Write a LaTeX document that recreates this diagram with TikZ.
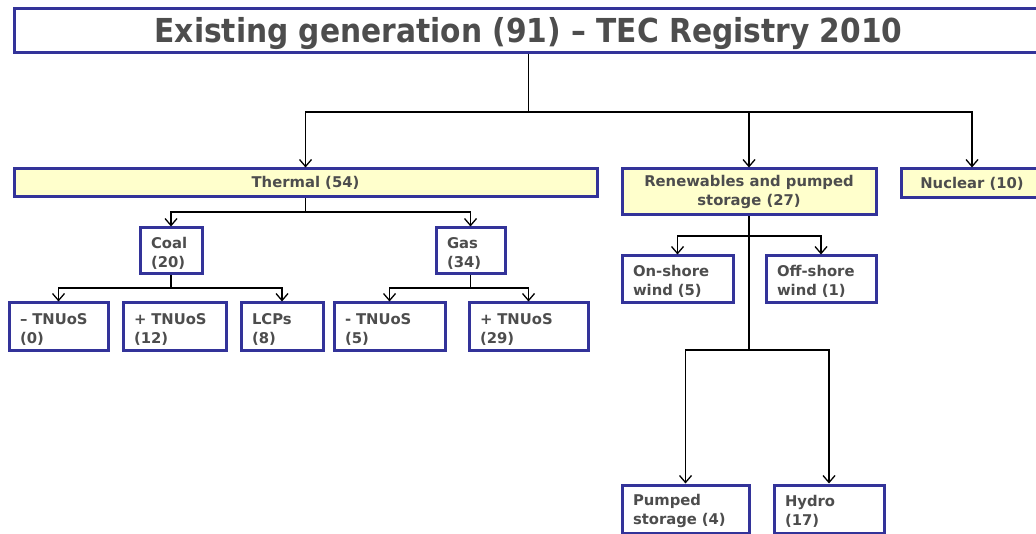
\documentclass[tikz,border=0pt]{standalone}
\usepackage{fontspec}
\setmainfont{DejaVu Sans}
\newfontfamily\titlefont{DejaVu Sans Condensed}
\usetikzlibrary{arrows.meta}
\definecolor{bordblue}{HTML}{333399}
\definecolor{boxyellow}{HTML}{FFFFCC}
\definecolor{txtgrey}{HTML}{4D4D4D}
\tikzset{
  basebox/.style={draw=bordblue, line width=3pt, fill=white, inner ysep=0pt,
    text=txtgrey, font=\fontsize{14.8}{19}\selectfont\bfseries},
  ybox/.style={basebox, fill=boxyellow, align=center},
  lbox/.style={basebox, align=left, inner xsep=11pt, text width=#1,
    execute at begin node={\rule{0pt}{15pt}}},
  conn/.style={line width=1.3pt, black},
  arr/.style={conn, -{Straight Barb[length=7pt,width=12pt,line width=1.3pt]}},
}
\begin{document}
\begin{tikzpicture}[x=1pt,y=-1pt]
\useasboundingbox (0,0) rectangle (1036,534);
% title
\node[basebox, minimum width=1029pt, minimum height=44pt, text height=24pt, text depth=0pt,
  font=\titlefont\fontsize{33}{36}\selectfont\bfseries]
  (title) at (528.5,31) {Existing generation (91) – TEC Registry 2010};
% level 1
\node[ybox, minimum width=583pt, minimum height=28pt] (thermal) at (305.5,183) {Thermal (54)};
\node[ybox, minimum width=254pt, minimum height=46pt] (renew) at (749,192) {Renewables and pumped\\storage (27)};
\node[ybox, minimum width=142pt, minimum height=29pt] (nuclear) at (972,183.5) {Nuclear (10)};
% thermal children
\node[lbox=40pt, minimum height=46pt] (coal) at (171,251) {Coal\\(20)};
\node[lbox=47pt, minimum height=46pt] (gas) at (470.5,251) {Gas\\(34)};
% coal children
\node[lbox=77pt, minimum height=48pt] (ctm) at (58.5,327) {– TNUoS\\(0)};
\node[lbox=81pt, minimum height=48pt] (ctp) at (174.5,327) {+ TNUoS\\(12)};
\node[lbox=60pt, minimum height=48pt] (lcp) at (282,327) {LCPs\\(8)};
% gas children
\node[lbox=89pt, minimum height=48pt] (gtm) at (389.5,327) {- TNUoS\\(5)};
\node[lbox=97pt, minimum height=48pt] (gtp) at (528.5,327) {+ TNUoS\\(29)};
% renewables children
\node[lbox=89pt, minimum height=47pt] (onshore) at (677.5,279.5) {On-shore\\wind (5)};
\node[lbox=88pt, minimum height=47pt] (offshore) at (821,279.5) {Off-shore\\wind (1)};
\node[lbox=105pt, minimum height=48pt] (pumped) at (685.5,509) {Pumped\\storage (4)};
\node[lbox=88pt, minimum height=48pt] (hydro) at (829,509) {Hydro\\(17)};
% connectors: title
\draw[conn] (title.south) -- (title.south |- 0,112) coordinate (tj);
\draw[arr] (tj) -| (thermal.north);
\draw[arr] (tj) -| (renew.north);
\draw[arr] (tj) -| (nuclear.north);
% thermal
\draw[conn] (thermal.south) -- (thermal.south |- 0,212) coordinate (thj);
\draw[arr] (thj) -| (coal.north);
\draw[arr] (thj) -| (gas.north);
% coal
\draw[conn] (coal.south) -- (coal.south |- 0,288) coordinate (cj);
\draw[arr] (cj) -| (ctm.north);
\draw[arr] (cj) -| (lcp.north);
% gas
\draw[conn] (gas.south) -- (gas.south |- 0,288) coordinate (gj);
\draw[arr] (gj) -| (gtm.north);
\draw[arr] (gj) -| (gtp.north);
% renewables
\draw[conn] (renew.south) -- (renew.south |- 0,350) coordinate (rj2);
\coordinate (rj1) at (renew.south |- 0,236);
\draw[arr] (rj1) -| (onshore.north);
\draw[arr] (rj1) -| (offshore.north);
\draw[arr] (rj2) -| (pumped.north);
\draw[arr] (rj2) -| (hydro.north);
\end{tikzpicture}
\end{document}
